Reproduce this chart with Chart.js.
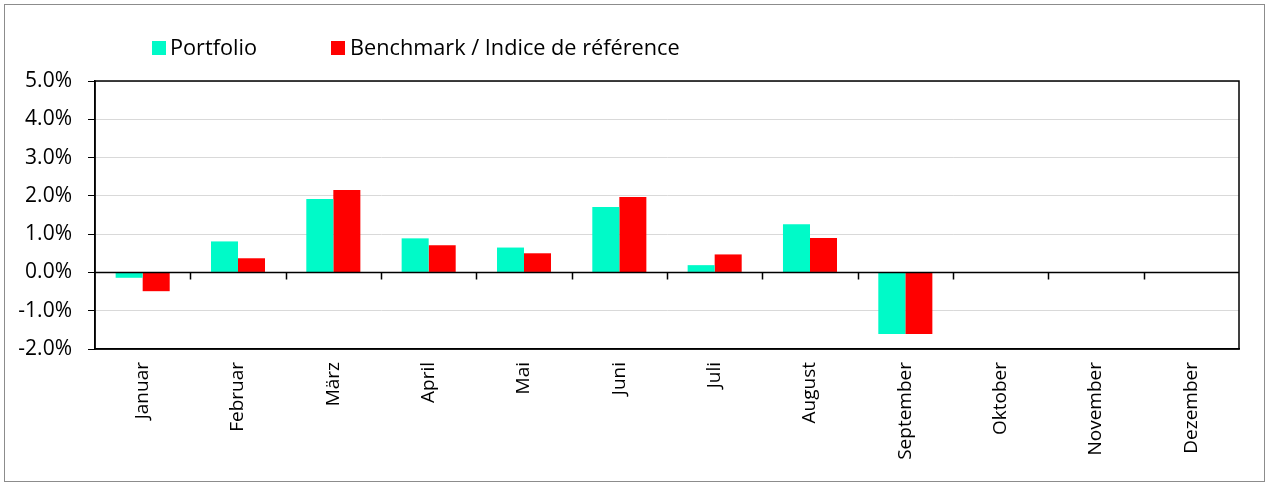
<!DOCTYPE html>
<html>
<head>
<meta charset="utf-8">
<script src="https://cdn.jsdelivr.net/npm/chart.js@4.4.1/dist/chart.umd.min.js"></script>
<style>
  html, body { margin: 0; padding: 0; background: #fff; }
  #wrap { position: relative; width: 1267px; height: 483px; font-family: "Open Sans", sans-serif; }
  #frame { position: absolute; left: 4px; top: 4px; width: 1259px; height: 476px; border: 1.5px solid #8c8c8c; pointer-events: none; }
  .lg-box { position: absolute; top: 41px; width: 14px; height: 14px; }
  .lg-txt { position: absolute; top: 34px; font-size: 21.7px; line-height: 26px; color: #000; white-space: nowrap; }
  canvas { position: absolute; left: 0; top: 0; }
</style>
</head>
<body>
<div id="wrap">
  <canvas id="myChart" width="1267" height="483"></canvas>
  <div id="frame"></div>
  <span class="lg-box" id="lg0" style="left:152px"></span><span class="lg-txt" id="lt0" style="left:170px"></span>
  <span class="lg-box" id="lg1" style="left:331px"></span><span class="lg-txt" id="lt1" style="left:350px"></span>
</div>
<script>
const months = ['Januar', 'Februar', 'März', 'April', 'Mai', 'Juni', 'Juli', 'August', 'September', 'Oktober', 'November', 'Dezember'];
const seriesNames = ['Portfolio', 'Benchmark / Indice de référence'];
const portfolio = [-0.14, 0.81, 1.92, 0.89, 0.65, 1.71, 0.19, 1.26, -1.61, null, null, null];
const benchmark = [-0.49, 0.37, 2.15, 0.71, 0.50, 1.97, 0.47, 0.90, -1.61, null, null, null];
const yTicks = [-2, -1, 0, 1, 2, 3, 4, 5];
const colors = ['#00FAC8', '#FF0000'];

// html legend
seriesNames.forEach((name, i) => {
    document.getElementById('lg' + i).style.background = colors[i];
    document.getElementById('lt' + i).textContent = name;
});

// tick marks on the zero line + black frame round the plot
const excelAxis = {
    id: 'excelAxis',
    afterDraw(chart) {
        const ctx = chart.ctx;
        const x = chart.scales.x;
        const y = chart.scales.y;
        const area = chart.chartArea;
        const y0 = y.getPixelForValue(0);
        ctx.save();
        ctx.strokeStyle = '#000';
        ctx.lineWidth = 1.5;
        ctx.beginPath();
        ctx.moveTo(area.left, y0);
        ctx.lineTo(area.right, y0);
        for (let i = 1; i < months.length; i++) {
            const bx = Math.round((x.getPixelForValue(i - 1) + x.getPixelForValue(i)) / 2) + 0.5;
            ctx.moveTo(bx, y0);
            ctx.lineTo(bx, y0 + 7);
        }
        ctx.stroke();
        ctx.strokeRect(area.left, area.top, area.right - area.left, area.bottom - area.top);
        ctx.restore();
    }
};

const ctx = document.getElementById('myChart').getContext('2d');
new Chart(ctx, {
    type: 'bar',
    data: {
        labels: months,
        datasets: [
            { label: seriesNames[0], data: portfolio, backgroundColor: colors[0], borderWidth: 0 },
            { label: seriesNames[1], data: benchmark, backgroundColor: colors[1], borderWidth: 0 },
        ],
    },
    options: {
        responsive: false,
        animation: false,
        layout: { padding: { top: 81, right: 28, left: 0, bottom: 0 } },
        datasets: { bar: { categoryPercentage: 0.567, barPercentage: 1.0 } },
        plugins: {
            legend: { display: false },
            tooltip: { enabled: false },
        },
        scales: {
            x: {
                grid: { display: false, drawTicks: false },
                border: { color: '#000', width: 1.5 },
                ticks: {
                    maxRotation: 90,
                    minRotation: 90,
                    padding: 13,
                    color: '#000',
                    font: { family: 'Open Sans', size: 19 },
                },
                afterFit(scale) { scale.height = 134; },
            },
            y: {
                min: -2,
                max: 5,
                afterBuildTicks(scale) { scale.ticks = yTicks.map(v => ({ value: v })); },
                grid: {
                    color: '#d9d9d9',
                    lineWidth: 1,
                    tickLength: 7,
                    tickColor: '#000',
                },
                border: { color: '#000', width: 1.5 },
                ticks: {
                    padding: 16,
                    color: '#000',
                    font: { family: 'Open Sans', size: 21 },
                    callback: v => v.toFixed(1) + '%',
                },
                afterFit(scale) { scale.width = 95; },
            },
        },
    },
    plugins: [excelAxis],
});
</script>
</body>
</html>
